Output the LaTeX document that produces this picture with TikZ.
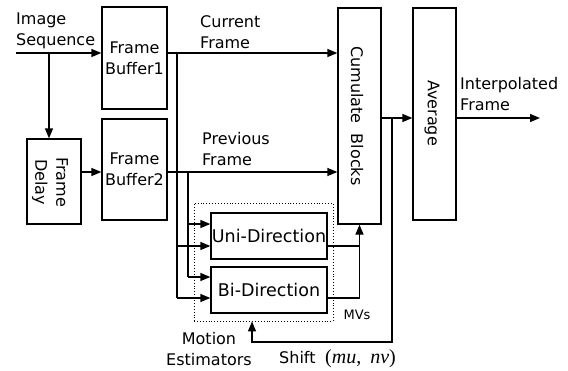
\documentclass[tikz,border=0pt]{standalone}
\usepackage{fontspec}
\setmainfont{DejaVu Sans}
\newfontfamily\serifm{Liberation Serif}
\usetikzlibrary{arrows.meta}
\begin{document}
\begin{tikzpicture}[x=1pt,y=-1pt,
  box/.style={draw,line width=1.3pt,inner sep=0pt,align=center,font=\fontsize{16}{21}\selectfont},
  txt/.style={font=\fontsize{16}{21}\selectfont,inner sep=0pt,align=center},
  txtl/.style={font=\fontsize{16}{21}\selectfont,inner sep=0pt,align=left,anchor=west},
  arr/.style={line width=1.3pt,-{Triangle[length=10pt,width=8pt]}},
  ln/.style={line width=1.3pt}]
\useasboundingbox (0,0) rectangle (568,370);
% motion estimator dotted frame
\node[draw,dotted,line width=0.9pt,minimum width=139pt,minimum height=118pt,inner sep=0pt] (me) at (263.5,262) {};
% boxes
\node[box,minimum width=65pt,minimum height=102pt] (fb1) at (134.5,58) {Frame\\Buffer1};
\node[box,minimum width=65pt,minimum height=101pt] (fb2) at (134.5,169.5) {Frame\\Buffer2};
\node[box,minimum width=54pt,minimum height=85pt] (delay) at (54,181.5) {};
\node[txt,rotate=-90] (delayt) at (50,182) {Frame\\Delay};
\node[box,minimum width=43pt,minimum height=216pt] (cum) at (359.5,116) {};
\node[txt,rotate=-90] (cumt) at (357,116) {Cumulate\ \ Blocks};
\node[box,minimum width=43pt,minimum height=212pt] (avg) at (434.5,114) {};
\node[txt,rotate=-90] (avgt) at (432,113) {Average};
\node[box,minimum width=116pt,minimum height=46pt,font=\fontsize{17.5}{21}\selectfont] (uni) at (269,236) {Uni-Direction};
\node[box,minimum width=116pt,minimum height=46pt,font=\fontsize{17.5}{21}\selectfont] (bi) at (269,290) {Bi-Direction};
% labels
\node[txtl] (imgseq) at (16,31) {Image\\Sequence};
\node[txtl] (curf) at (200,32) {Current\\Frame};
\node[txtl] (prevf) at (202,149) {Previous\\Frame};
\node[txtl] (interp) at (460,94) {Interpolated\\Frame};
\node[font=\fontsize{13}{15}\selectfont,inner sep=0pt] (mvs) at (357,315) {MVs};
\node[txt] (mot) at (209,349) {Motion\\Estimators};
\node[font=\fontsize{16}{20}\selectfont,inner sep=0pt,anchor=base west] (shift) at (279,363) {Shift};
\node[font=\serifm\fontsize{20}{22}\selectfont,inner sep=0pt,anchor=base west] (mn) at (325,363) {(\textit{mu},\hspace{9pt}\textit{nv})};
% coordinates
\coordinate (src) at (16,53);
\coordinate (br) at (49,53);
\coordinate (v1) at (177,53);
\coordinate (v1e) at (177,298);
\coordinate (v2) at (188,172);
\coordinate (v2e) at (188,277);
\coordinate (u1) at (188,224);
\coordinate (u2) at (177,246);
\coordinate (b1) at (188,277);
\coordinate (b2) at (177,298);
\coordinate (mvj) at (359.5,246);
\coordinate (out) at (540,118);
\coordinate (sh) at (392,118);
\coordinate (shb) at (392,342);
\coordinate (shl) at (252,342);
% connectors
\draw[arr] (src) -- (src -| fb1.west);
\draw[arr] (br) -- (br |- delay.north);
\draw[arr] (delay.east |- v2) -- (fb2.west |- v2);
\draw[arr] (fb1.east |- src) -- (cum.west |- src);
\draw[arr] (fb2.east |- v2) -- (cum.west |- v2);
\draw[ln] (v1) -- (v1e);
\draw[ln] (v2) -- (v2e);
\draw[arr] (u1) -- (u1 -| uni.west);
\draw[arr] (u2) -- (u2 -| uni.west);
\draw[arr] (b1) -- (b1 -| bi.west);
\draw[arr] (b2) -- (b2 -| bi.west);
\draw[ln] (uni.east |- mvj) -- (mvj);
\draw[arr] (bi.east |- b2) -| (cum.south);
\draw[arr] (cum.east |- out) -- (avg.west |- out);
\draw[arr] (avg.east |- out) -- (out);
\draw[arr] (sh) -- (shb) -- (shl) -- (shl |- me.south);
\end{tikzpicture}
\end{document}
